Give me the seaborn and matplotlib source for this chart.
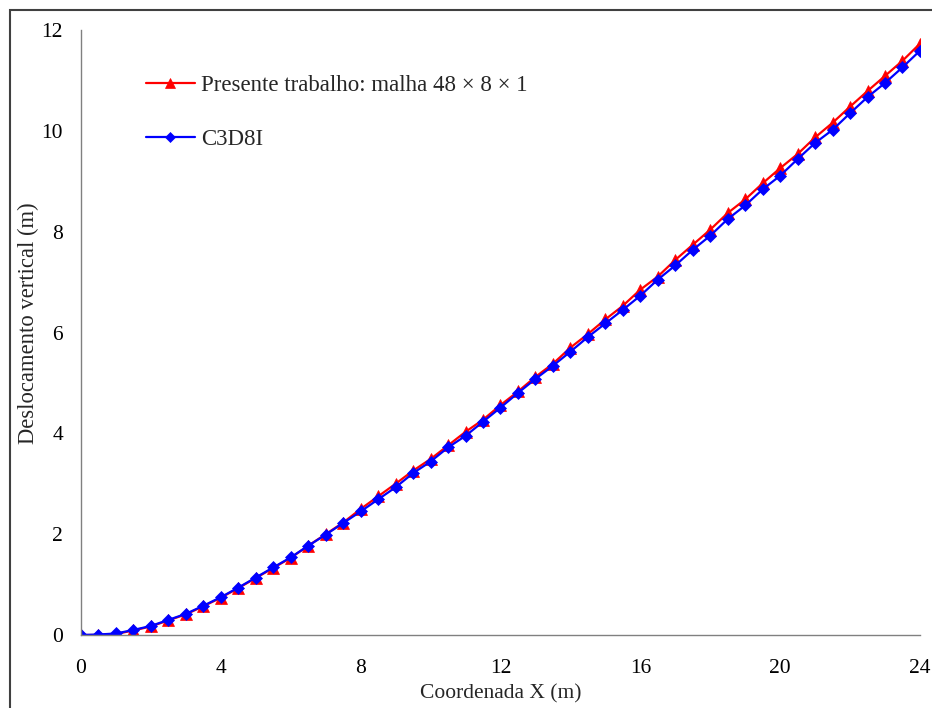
import matplotlib
matplotlib.use("Agg")
import matplotlib.pyplot as plt
import seaborn as sns
from matplotlib.patches import Rectangle

# Points along the beam, every 0.5 m
x_coord = [0.0, 0.5, 1.0, 1.5, 2.0, 2.5, 3.0, 3.5, 4.0, 4.5, 5.0, 5.5, 6.0, 6.5,
           7.0, 7.5, 8.0, 8.5, 9.0, 9.5, 10.0, 10.5, 11.0, 11.5, 12.0, 12.5,
           13.0, 13.5, 14.0, 14.5, 15.0, 15.5, 16.0, 16.5, 17.0, 17.5, 18.0,
           18.5, 19.0, 19.5, 20.0, 20.5, 21.0, 21.5, 22.0, 22.5, 23.0, 23.5, 24.0]

# vertical displacement (m)
presente = [0.00, 0.00, 0.02, 0.09, 0.17, 0.29, 0.41, 0.57, 0.74, 0.93, 1.13,
            1.33, 1.53, 1.77, 2.00, 2.23, 2.50, 2.75, 3.00, 3.26, 3.49, 3.76,
            4.03, 4.27, 4.56, 4.83, 5.12, 5.38, 5.70, 5.97, 6.26, 6.53, 6.85,
            7.11, 7.44, 7.74, 8.04, 8.37, 8.64, 8.96, 9.26, 9.54, 9.87, 10.16,
            10.48, 10.79, 11.09, 11.39, 11.73]
c3d8i = [0.00, 0.01, 0.03, 0.10, 0.18, 0.30, 0.42, 0.58, 0.75, 0.94, 1.14,
         1.34, 1.54, 1.77, 1.99, 2.22, 2.45, 2.69, 2.93, 3.21, 3.44, 3.72,
         3.95, 4.23, 4.51, 4.80, 5.08, 5.34, 5.62, 5.91, 6.18, 6.45, 6.73,
         7.05, 7.33, 7.64, 7.92, 8.25, 8.52, 8.84, 9.11, 9.44, 9.76, 10.02,
         10.35, 10.67, 10.95, 11.26, 11.59]

LABEL_RED = "Presente trabalho: malha 48 \u00d7 8 \u00d7 1"
LABEL_BLUE = "C3D8I"

sns.set_style("white")
plt.rcParams["font.family"] = ["Liberation Serif", "DejaVu Serif"]
FS = 15.5

fig = plt.figure(figsize=(9.32, 7.08), dpi=100)
ax = fig.add_axes([0.0869, 0.1031, 0.9002, 0.8545])

sns.lineplot(x=x_coord, y=presente, ax=ax, color="#FF0000", marker="^",
             markersize=8, markeredgewidth=0.5, markeredgecolor="#FF0000",
             linewidth=1.6, label=LABEL_RED)
sns.lineplot(x=x_coord, y=c3d8i, ax=ax, color="#0000FF", marker="D",
             markersize=6, markeredgewidth=0.5, markeredgecolor="#0000FF",
             linewidth=1.6, label=LABEL_BLUE)

ax.set_xlim(0, 24)
ax.set_ylim(0, 12)
ax.set_xticks([0, 4, 8, 12, 16, 20, 24])
ax.set_yticks([0, 2, 4, 6, 8, 10, 12])
for side in ["top", "right"]:
    ax.spines[side].set_visible(False)
for side in ["left", "bottom"]:
    ax.spines[side].set_color("#808080")
    ax.spines[side].set_linewidth(1.0)
ax.tick_params(direction="out", length=5, width=1.0, color="#808080",
               labelsize=FS, labelcolor="black", pad=8)
ax.tick_params(axis="x", pad=12)
ax.set_xlabel("Coordenada X (m)", fontsize=FS, labelpad=5)
ax.set_ylabel("Deslocamento vertical (m)", fontsize=16.3)
ax.yaxis.set_label_coords(-0.050, 0.516)

leg = ax.legend(loc="upper left", bbox_to_anchor=(0.078, 0.926), frameon=False,
                fontsize=16.5, borderpad=0, borderaxespad=0, handlelength=2.1,
                handletextpad=0.3, labelspacing=1.45, markerscale=0.85)

# outer frame around the whole chart
fig.patches.append(Rectangle((9.5 / 932, -0.05), 1.1, 1 - 10 / 708 + 0.05,
                             transform=fig.transFigure, fill=False,
                             edgecolor="#404040", linewidth=1.5, zorder=0))

fig.savefig("out.png", dpi=100, facecolor="white")
